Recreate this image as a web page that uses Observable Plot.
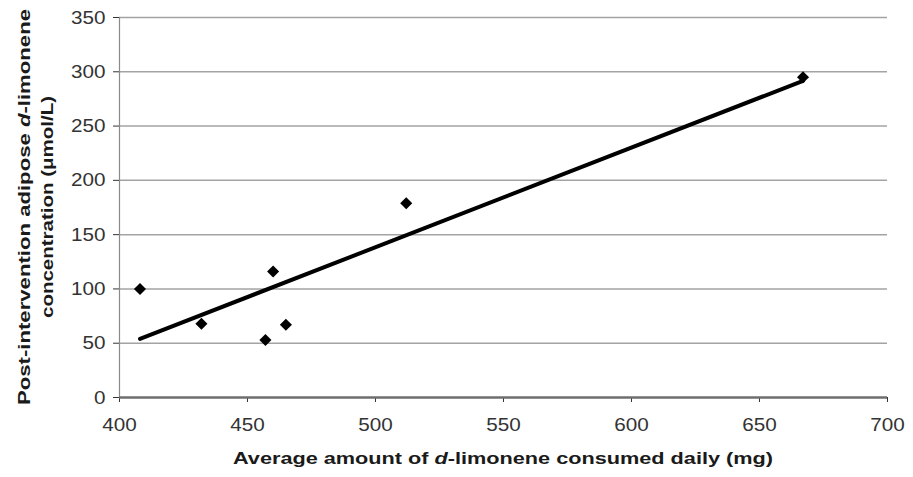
<!DOCTYPE html>
<html><head><meta charset="utf-8">
<script src="https://cdn.jsdelivr.net/npm/d3@7"></script>
<script src="https://cdn.jsdelivr.net/npm/@observablehq/plot@0.6"></script>
<style>html,body{margin:0;padding:0;background:#fff}#chart{width:913px;height:477px}</style>
</head><body><div id="chart"></div>
<script>
const consumedMg = [408, 432, 457, 460, 465, 512, 667];
const adiposeUmol = [100, 68, 53, 116, 67, 179, 295];
const xTicks = [400, 450, 500, 550, 600, 650, 700];
const yTicks = [0, 50, 100, 150, 200, 250, 300, 350];
const xTitleParts = [["Average amount of ", false], ["d", true], ["-limonene consumed daily (mg)", false]];
const yTitle1Parts = [["Post-intervention adipose ", false], ["d", true], ["-limonene", false]];
const yTitle2Parts = [["concentration (\u03bcmol/L)", false]];

const data = consumedMg.map((x, i) => ({x, y: adiposeUmol[i]}));

const diamond = {
  draw(ctx, size) {
    const h = Math.sqrt(size / 2);
    ctx.moveTo(0, -h); ctx.lineTo(h, 0); ctx.lineTo(0, h); ctx.lineTo(-h, 0); ctx.closePath();
  }
};

const W = 913, H = 477, ML = 119, MR = 26, MT = 17, MB = 80;

const chart = Plot.plot({
  width: W, height: H,
  marginLeft: ML, marginRight: MR, marginTop: MT, marginBottom: MB,
  style: {fontFamily: "'Liberation Sans', Arial, sans-serif", fontSize: "19px", color: "#333", background: "#fff"},
  x: {domain: [400, 700], ticks: xTicks, tickSize: 5, tickPadding: 15, label: null, tickFormat: d => String(d)},
  y: {domain: [0, 350], ticks: yTicks, tickSize: 6, tickPadding: 8, label: null, tickFormat: d => String(d)},
  marks: [
    Plot.ruleY(yTicks.filter(d => d > 0), {x1: 400, x2: 700, stroke: "#a3a3a3", strokeWidth: 1.5}),
    Plot.ruleX([400], {stroke: "#8a8a8a", strokeWidth: 1.2}),
    Plot.ruleY([0], {x1: 400, x2: 700, stroke: "#6e6e6e", strokeWidth: 2.5}),
    Plot.linearRegressionY(data, {x: "x", y: "y", ci: 0, stroke: "#000", strokeWidth: 4}),
    Plot.dot(data, {x: "x", y: "y", symbol: diamond, r: 4.8, fill: "#000", stroke: "none"})
  ]
});

const svg = d3.select(chart);
// slightly widen tick labels to match the reference's horizontally stretched lettering
svg.selectAll('g[aria-label$="tick label"] text').each(function () {
  const n = (this.textContent || "").length;
  if (n) d3.select(this).attr("textLength", n * 11.5).attr("lengthAdjust", "spacingAndGlyphs");
});

function addTitle(parts, attrs, length) {
  const t = svg.append("text")
    .attr("font-family", "'Liberation Sans', Arial, sans-serif")
    .attr("font-size", 17)
    .attr("font-weight", "bold")
    .attr("fill", "#1a1a1a")
    .attr("text-anchor", "middle");
  for (const [k, v] of Object.entries(attrs)) t.attr(k, v);
  for (const [s, it] of parts) {
    const ts = t.append("tspan").text(s);
    if (it) ts.attr("font-style", "italic");
  }
  if (length) t.attr("textLength", length).attr("lengthAdjust", "spacingAndGlyphs");
  return t;
}
const cx = (ML + (W - MR)) / 2;
const cy = (MT + (H - MB)) / 2;
addTitle(xTitleParts, {x: cx, y: 464}, 540);
addTitle(yTitle1Parts, {transform: `translate(30,${cy}) rotate(-90)`}, 396);
addTitle(yTitle2Parts, {transform: `translate(53,${cy}) rotate(-90)`}, 222);

document.getElementById("chart").appendChild(chart);
</script>
</body></html>
